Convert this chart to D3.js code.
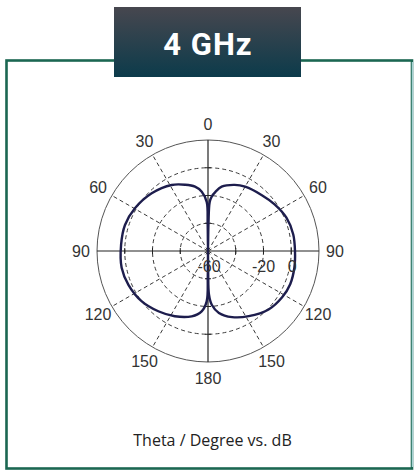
<!DOCTYPE html>
<html>
<head>
<meta charset="utf-8">
<script src="https://cdn.jsdelivr.net/npm/d3@7"></script>
<style>
html,body{margin:0;padding:0;background:#fff;}
svg{display:block;}
</style>
</head>
<body>
<svg id="chart" width="414" height="472"></svg>
<script>
// ---- data ----
const title = "4 GHz";
const subtitle = "Theta / Degree vs. dB";
// angle (degrees, clockwise from top) and gain (dB)
const thetaDeg = [0, 1, 2, 4, 7, 12, 22, 30, 44, 55, 67, 79, 90, 101, 112, 122, 134, 148, 160, 170, 176, 178.7, 179.5,
                  180, 180.5, 181.5, 186, 194, 207, 219.5, 233, 247, 259, 274, 287.4, 300.3, 315.7, 331.2, 341, 348.6, 354, 358.5, 359.3];
const gainDb =   [-60, -40, -24.7, -20.5, -17.2, -12.6, -8.6, -6.5, -4.1, -1.4, 1.4, 2.6, 2.7, 3.4, 3.9, 3.0, 0.7, -4.6, -9.3, -14.7, -21.2, -28.5, -45,
                  -60, -42, -23.7, -16.3, -11.5, -7.2, -3.7, 0.0, 2.3, 3.4, 2.8, 2.7, 1.0, -1.9, -5.7, -9.5, -12.7, -17.0, -24.7, -40];
const angleTicks = [0, 30, 60, 90, 120, 150, 180, 210, 240, 270, 300, 330];
const angleLabels = ["0", "30", "60", "90", "120", "150", "180", "150", "120", "90", "60", "30"];
const ringValues = [-40, -20, 0];
const radialLabelValues = [-60, -20, 0];
const radialLabels = ["-60", "-20", "0"];
const dbMin = -60, dbMax = 20;

// ---- layout ----
const svg = d3.select("#chart");
const cx = 208, cy = 251, R = 111;

// frame
svg.append("rect").attr("x", 6.5).attr("y", 60.5).attr("width", 405.5).attr("height", 408)
  .attr("fill", "none").attr("stroke", "#1b6752").attr("stroke-width", 2.6);
svg.append("line").attr("x1", 412.5).attr("x2", 412.5).attr("y1", 62).attr("y2", 467)
  .attr("stroke", "#a8d3d4").attr("stroke-width", 1.5);

// title box with gradient
const defs = svg.append("defs");
const grad = defs.append("linearGradient").attr("id", "tg").attr("x1", 0).attr("y1", 0).attr("x2", 0).attr("y2", 1);
grad.append("stop").attr("offset", "0%").attr("stop-color", "#47474f");
grad.append("stop").attr("offset", "100%").attr("stop-color", "#0c3b4b");
svg.append("rect").attr("x", 114).attr("y", 7).attr("width", 187).attr("height", 70).attr("fill", "url(#tg)");
svg.append("text").attr("x", 208).attr("y", 55).attr("text-anchor", "middle")
  .attr("font-family", "Roboto, 'Liberation Sans', sans-serif").attr("font-weight", "bold")
  .attr("font-size", 31).attr("letter-spacing", 1).attr("fill", "#ffffff").text(title);

// ---- polar chart ----
const g = svg.append("g").attr("transform", `translate(${cx},${cy})`);
const r = d3.scaleLinear().domain([dbMin, dbMax]).range([0, R]);
const ang = d3.scaleLinear().domain([0, 360]).range([0, 2 * Math.PI]);
const gridColor = "#3a3a3a";

// dashed rings
g.selectAll("circle.ring").data(ringValues).join("circle").attr("class", "ring")
  .attr("r", d => r(d)).attr("fill", "none").attr("stroke", gridColor)
  .attr("stroke-width", 1).attr("stroke-dasharray", "4,3");

// dashed spokes
g.selectAll("line.spoke").data(angleTicks.filter(a => a % 90 !== 0)).join("line").attr("class", "spoke")
  .attr("x1", 0).attr("y1", 0)
  .attr("x2", d => R * Math.sin(ang(d))).attr("y2", d => -R * Math.cos(ang(d)))
  .attr("stroke", gridColor).attr("stroke-width", 1).attr("stroke-dasharray", "4,3");

// outer circle
g.append("circle").attr("r", R).attr("fill", "none").attr("stroke", "#555").attr("stroke-width", 1);

// solid axes
g.append("line").attr("x1", -R).attr("x2", R).attr("y1", 0).attr("y2", 0).attr("stroke", "#222").attr("stroke-width", 1.2);
g.append("line").attr("y1", -R).attr("y2", R).attr("x1", 0).attr("x2", 0).attr("stroke", "#222").attr("stroke-width", 1.2);

// axis ticks at ring positions
const tickR = ringValues.map(v => r(v));
tickR.forEach(t => {
  [-1, 1].forEach(s => {
    g.append("line").attr("x1", s * t).attr("x2", s * t).attr("y1", -3).attr("y2", 3).attr("stroke", "#222");
    g.append("line").attr("y1", s * t).attr("y2", s * t).attr("x1", -3).attr("x2", 3).attr("stroke", "#222");
  });
});

// pattern curve
const pts = thetaDeg.map((t, i) => [ang(t), r(gainDb[i])]);
const line = d3.lineRadial().angle(d => d[0]).radius(d => d[1]).curve(d3.curveCatmullRomClosed.alpha(0.5));
g.append("path").attr("d", line(pts)).attr("fill", "none")
  .attr("stroke", "#1d1d4d").attr("stroke-width", 2.4).attr("stroke-linejoin", "round");

// angle labels
const labR = 127;
g.selectAll("text.ang").data(angleTicks).join("text").attr("class", "ang")
  .attr("x", d => labR * Math.sin(ang(d))).attr("y", d => -labR * Math.cos(ang(d)))
  .attr("dy", "0.36em").attr("text-anchor", "middle")
  .attr("font-family", "'Liberation Sans', Arial, sans-serif").attr("font-size", 16).attr("fill", "#333")
  .text((d, i) => angleLabels[i]);

// radial labels
g.selectAll("text.rad").data(radialLabelValues).join("text").attr("class", "rad")
  .attr("x", (d, i) => i === 0 ? 1 : r(d) - (i === 2 ? -1 : 0)).attr("y", 21)
  .attr("text-anchor", "middle")
  .attr("font-family", "'Liberation Sans', Arial, sans-serif").attr("font-size", 16).attr("fill", "#333")
  .text((d, i) => radialLabels[i]);

// subtitle
svg.append("text").attr("x", 212.5).attr("y", 446).attr("text-anchor", "middle")
  .attr("font-family", "'Open Sans', 'Noto Sans', sans-serif").attr("font-size", 16).attr("fill", "#222")
  .text(subtitle);
</script>
</body>
</html>
